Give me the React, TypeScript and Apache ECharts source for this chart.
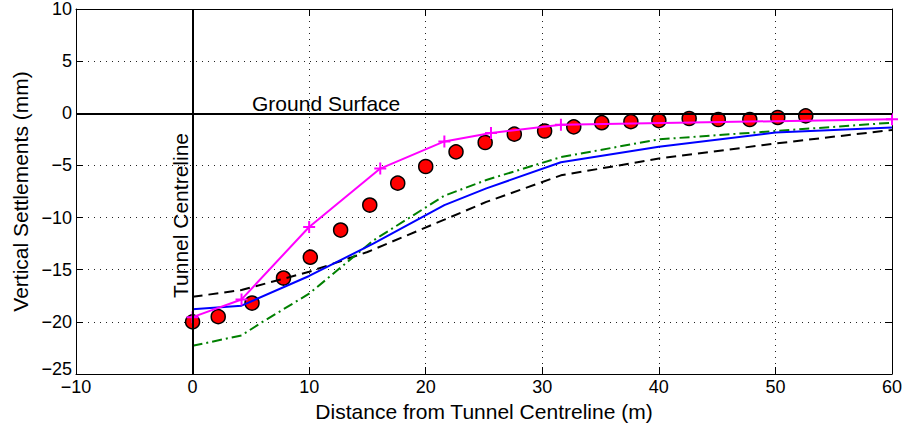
import React, { useEffect, useRef } from 'react';
import * as echarts from 'echarts';

const FONT = '"Liberation Sans", Arial, Helvetica, sans-serif';

// Observed settlements (red circles)
const observedX = [0, 2.2, 5.1, 7.8, 10.1, 12.7, 15.2, 17.6, 20.0, 22.6, 25.1, 27.6, 30.2, 32.7, 35.1, 37.6, 40.0, 42.6, 45.1, 47.8, 50.2, 52.6];
const observedY = [-20.0, -19.5, -18.2, -15.8, -13.8, -11.2, -8.8, -6.7, -5.1, -3.7, -2.8, -2.0, -1.7, -1.3, -0.9, -0.8, -0.7, -0.5, -0.6, -0.6, -0.4, -0.25];

// Magenta line with + markers
const magentaX = [0, 4.2, 10, 16.1, 21.6, 25.6, 31.6, 60];
const magentaY = [-19.55, -17.85, -10.9, -5.3, -2.7, -1.9, -1.1, -0.57];

// Blue solid
const blueX = [0, 4.2, 10, 15.5, 21.6, 25.2, 31.6, 40, 50, 60];
const blueY = [-18.8, -18.45, -15.6, -12.5, -8.8, -7.2, -4.7, -3.2, -1.85, -1.37];

// Black dashed
const blackX = [0, 4.2, 10, 15, 21.6, 25.2, 31.6, 40, 50, 60];
const blackY = [-17.6, -16.95, -15.2, -13.3, -10.2, -8.5, -5.95, -4.34, -2.9, -1.6];

// Green dash-dot
const greenX = [0, 4.2, 6, 10, 15.5, 21.6, 25.2, 31.6, 40, 50, 60];
const greenY = [-22.3, -21.3, -20.0, -17.3, -12.2, -7.9, -6.4, -4.2, -2.5, -1.7, -0.9];

const groundLabel = 'Ground Surface';
const groundLabelAt = [5.1, 0];
const centreLabel = 'Tunnel Centreline';
const centreLabelAt = [0, -9.8];

const yMin = -25;

const zip = (xs: number[], ys: number[]) => xs.map((x, i) => [x, ys[i]]);
const fmt = (v: number) => String(v).replace('-', '\u2212');
const fmtY = (v: number) => (v === yMin ? '{low|' + fmt(v) + '}' : fmt(v));

export default function App() {
  const ref = useRef<HTMLDivElement>(null);
  useEffect(() => {
    if (!ref.current) return;
    const chart = echarts.init(ref.current, null, { renderer: 'svg' });
    const axisLine = { onZero: false, lineStyle: { color: '#000', width: 1 } };
    const tick = { inside: true, length: 7, lineStyle: { color: '#000', width: 1 } };
    const split = { show: true, lineStyle: { color: '#222', type: [1, 5], width: 1 } };
    chart.setOption({
      animation: false,
      backgroundColor: '#fff',
      textStyle: { fontFamily: FONT },
      grid: { left: 76, right: 15, top: 8, bottom: 59 },
      xAxis: [
        {
          type: 'value', min: -10, max: 60, interval: 10, position: 'bottom',
          name: 'Distance from Tunnel Centreline (m)', nameLocation: 'middle', nameGap: 24,
          nameTextStyle: { fontSize: 21, color: '#000', fontFamily: FONT },
          axisLine, axisTick: tick,
          axisLabel: { fontSize: 18, color: '#000', margin: 4, fontFamily: FONT, formatter: fmt },
          splitLine: split,
        },
        {
          type: 'value', min: -10, max: 60, interval: 10, position: 'top',
          axisLine, axisTick: tick, axisLabel: { show: false }, splitLine: { show: false },
        },
      ],
      yAxis: [
        {
          type: 'value', min: yMin, max: 10, interval: 5, position: 'left',
          name: 'Vertical Settlements (mm)', nameLocation: 'middle', nameGap: 44,
          nameTextStyle: { fontSize: 21, color: '#000', fontFamily: FONT },
          axisLine, axisTick: tick,
          axisLabel: {
            fontSize: 18, color: '#000', margin: 4, fontFamily: FONT, formatter: fmtY,
            rich: { low: { fontSize: 18, fontFamily: FONT, color: '#000', padding: [0, 0, 10, 0] } },
          },
          splitLine: split,
        },
        {
          type: 'value', min: yMin, max: 10, interval: 5, position: 'right',
          axisLine, axisTick: tick, axisLabel: { show: false }, splitLine: { show: false },
        },
      ],
      series: [
        {
          type: 'line', data: zip(blackX, blackY), symbol: 'none',
          lineStyle: { color: '#000', width: 2, type: [10, 6] },
          markLine: {
            silent: true, symbol: ['none', 'none'], label: { show: false },
            lineStyle: { color: '#000', width: 2, type: 'solid' },
            data: [{ yAxis: 0 }, { xAxis: 0 }],
          },
        },
        {
          type: 'line', data: zip(greenX, greenY), symbol: 'none',
          lineStyle: { color: '#008000', width: 2, type: [10, 4, 2, 4] },
        },
        {
          type: 'line', data: zip(blueX, blueY), symbol: 'none',
          lineStyle: { color: '#0000ff', width: 2 },
        },
        {
          type: 'line', data: zip(magentaX, magentaY),
          symbol: 'path://M0,5L10,5M5,0L5,10', symbolSize: 12, showAllSymbol: true,
          itemStyle: { color: '#ff00ff', borderColor: '#ff00ff', borderWidth: 2 },
          lineStyle: { color: '#ff00ff', width: 2 },
        },
        {
          type: 'scatter', data: zip(observedX, observedY), symbol: 'circle', symbolSize: 14,
          itemStyle: { color: '#ff0000', borderColor: '#000', borderWidth: 1.5, opacity: 1 },
        },
      ],
    });
    const pg = chart.convertToPixel({ xAxisIndex: 0, yAxisIndex: 0 }, groundLabelAt) as number[];
    const pc = chart.convertToPixel({ xAxisIndex: 0, yAxisIndex: 0 }, centreLabelAt) as number[];
    chart.setOption({
      graphic: [
        {
          type: 'text', x: pg[0], y: pg[1] + 1, z: 10,
          style: { text: groundLabel, fontSize: 21, fontFamily: FONT, fill: '#000', align: 'left', verticalAlign: 'bottom' },
        },
        {
          type: 'text', x: pc[0] - 2, y: pc[1], rotation: Math.PI / 2, z: 10,
          style: { text: centreLabel, fontSize: 21, fontFamily: FONT, fill: '#000', align: 'center', verticalAlign: 'bottom' },
        },
      ],
    });
    return () => chart.dispose();
  }, []);
  return (
    <div
      ref={ref}
      style={{ position: 'fixed', left: 0, top: 0, width: 907, height: 433, background: '#fff' }}
    />
  );
}
